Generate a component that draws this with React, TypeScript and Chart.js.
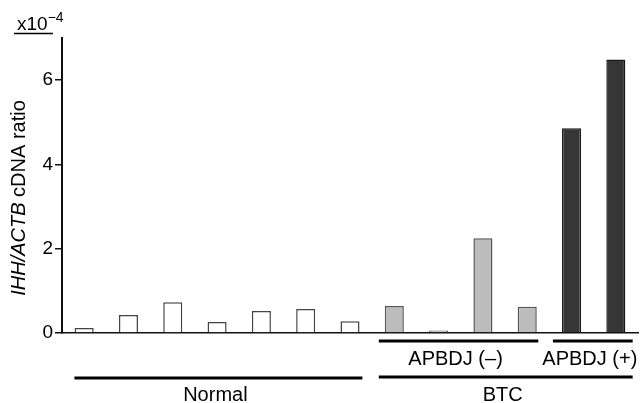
import React, { useEffect, useRef } from "react";
import { Chart, registerables } from "chart.js";

Chart.register(...registerables);

const categories = ["N1", "N2", "N3", "N4", "N5", "N6", "N7", "B1", "B2", "B3", "B4", "B5", "B6"];
const values = [0.12, 0.43, 0.73, 0.26, 0.52, 0.57, 0.28, 0.64, 0.06, 2.25, 0.62, 4.86, 6.49];
const groups = ["normal", "normal", "normal", "normal", "normal", "normal", "normal", "neg", "neg", "neg", "neg", "pos", "pos"];
const yTicks = [0, 2, 4, 6];
const yMax = 7;
const bracketLabels = ["Normal", "APBDJ (\u2013)", "APBDJ (+)", "BTC"];
const bracketFirst = [0, 7, 11, 7];
const bracketLast = [6, 10, 12, 12];

const FONT = '"Liberation Sans", Arial, Helvetica, sans-serif';

const fillFor: Record<string, string> = { normal: "#ffffff", neg: "#bcbcbc", pos: "#363636" };
const borderFor: Record<string, string> = { normal: "#444444", neg: "#555555", pos: "#1a1a1a" };

// style per bracket: [startFrac, endFrac, lineY, textBaselineY]
const bracketStyle = [
  [-0.22, 0.28, 378, 401],
  [-0.35, 0.25, 341, 365],
  [-0.42, 0.38, 341, 365],
  [-0.35, 0.38, 377, 401],
];

const annotPlugin = {
  id: "annot",
  afterDraw(chart: any) {
    const ctx = chart.ctx;
    const xs = chart.scales.x;
    const step = xs.getPixelForValue(1) - xs.getPixelForValue(0);
    ctx.save();
    ctx.fillStyle = "#000";
    ctx.strokeStyle = "#000";
    bracketLabels.forEach((lab, i) => {
      const [sf, ef, ly, ty] = bracketStyle[i];
      const x1 = xs.getPixelForValue(bracketFirst[i]) + sf * step;
      const x2 = xs.getPixelForValue(bracketLast[i]) + ef * step;
      ctx.lineWidth = 3;
      ctx.beginPath();
      ctx.moveTo(x1, ly);
      ctx.lineTo(x2, ly);
      ctx.stroke();
      ctx.font = `20px ${FONT}`;
      ctx.textAlign = "center";
      ctx.textBaseline = "alphabetic";
      ctx.fillText(lab, (x1 + x2) / 2 - 3, ty);
    });
    // x10^-4
    ctx.textAlign = "left";
    ctx.font = `19px ${FONT}`;
    ctx.fillText("x10", 17, 30);
    const w = ctx.measureText("x10").width;
    ctx.font = `14px ${FONT}`;
    ctx.fillText("\u22124", 17 + w, 22);
    ctx.lineWidth = 1.5;
    ctx.beginPath();
    ctx.moveTo(14, 33.5);
    ctx.lineTo(53, 33.5);
    ctx.stroke();
    // y title
    ctx.translate(25, 198);
    ctx.rotate(-Math.PI / 2);
    const p1 = "IHH/ACTB";
    const p2 = " cDNA ratio";
    ctx.font = `italic 20px ${FONT}`;
    const w1 = ctx.measureText(p1).width;
    ctx.font = `20px ${FONT}`;
    const w2 = ctx.measureText(p2).width;
    const start = -(w1 + w2) / 2;
    ctx.font = `italic 20px ${FONT}`;
    ctx.fillText(p1, start, 0);
    ctx.font = `20px ${FONT}`;
    ctx.fillText(p2, start + w1, 0);
    ctx.restore();
  },
};

export default function App() {
  const ref = useRef<HTMLCanvasElement>(null);
  useEffect(() => {
    document.body.style.margin = "0";
    const chart = new Chart(ref.current!, {
      type: "bar",
      data: {
        labels: categories,
        datasets: [
          {
            data: values,
            backgroundColor: groups.map((g) => fillFor[g]),
            borderColor: groups.map((g) => borderFor[g]),
            borderWidth: 1.5,
            borderSkipped: "bottom",
            barPercentage: 0.43,
            categoryPercentage: 1,
          },
        ],
      },
      options: {
        responsive: false,
        animation: false,
        layout: { padding: { top: 38, right: 6, left: 0, bottom: 0 } },
        plugins: { legend: { display: false }, tooltip: { enabled: false } },
        scales: {
          x: {
            type: "category",
            grid: { display: false },
            border: { display: true, color: "#111", width: 1.5 },
            ticks: { display: false },
            afterFit: (s: any) => {
              s.height = 70;
            },
          },
          y: {
            min: 0,
            max: yMax,
            afterBuildTicks: (s: any) => {
              s.ticks = yTicks.map((v) => ({ value: v }));
            },
            ticks: {
              stepSize: 2,
              font: { family: FONT, size: 19 },
              color: "#000",
              padding: 2,
            },
            grid: { drawOnChartArea: false, drawTicks: true, tickLength: 7, color: "#111", lineWidth: 1.5 },
            border: { display: true, color: "#111", width: 2 },
            afterFit: (s: any) => {
              s.width = 62;
            },
          },
        },
      },
      plugins: [annotPlugin],
    });
    return () => chart.destroy();
  }, []);
  return (
    <div style={{ width: 644, height: 403 }}>
      <canvas ref={ref} width={644} height={403} />
    </div>
  );
}
